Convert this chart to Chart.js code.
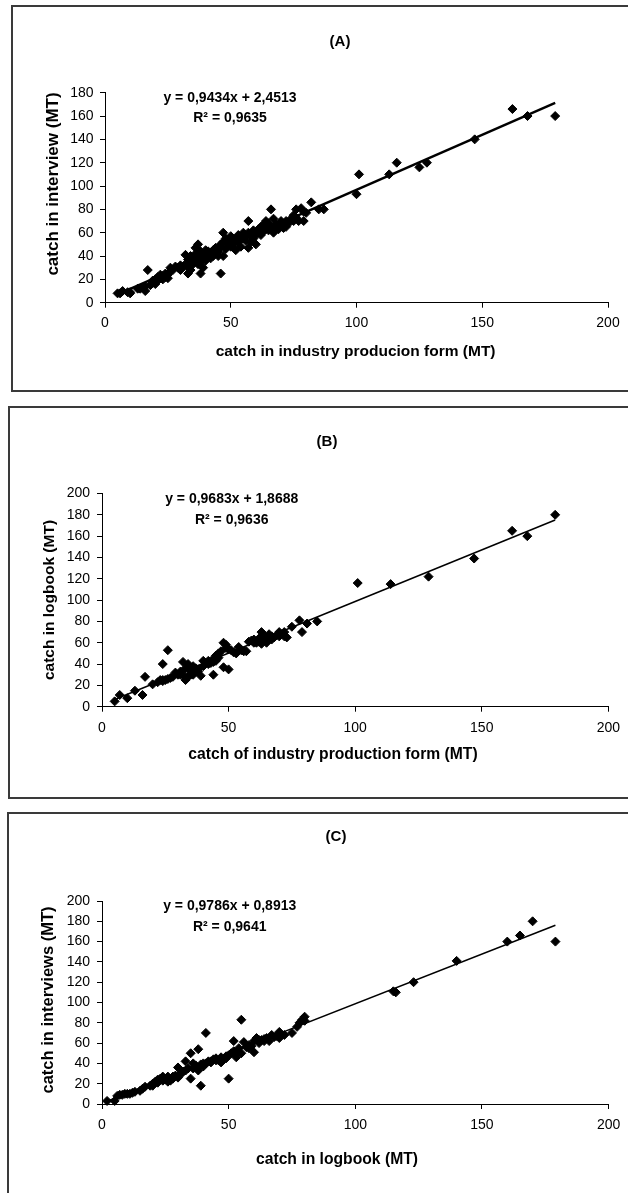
<!DOCTYPE html>
<html>
<head>
<meta charset="utf-8">
<script src="https://cdn.jsdelivr.net/npm/chart.js@4.4.1/dist/chart.umd.min.js"></script>
<style>
html,body{margin:0;padding:0;background:#fff;width:628px;height:1193px;overflow:hidden;position:relative;}
.frame{position:absolute;border:2px solid #3a3a3a;box-sizing:border-box;}
canvas{position:absolute;left:0;}
</style>
</head>
<body>
<canvas id="cA" width="628" height="392" style="top:0px"></canvas>
<canvas id="cB" width="628" height="392" style="top:406px"></canvas>
<canvas id="cC" width="628" height="381" style="top:812px"></canvas>
<div class="frame" style="left:11px;top:5px;width:700px;height:387px"></div>
<div class="frame" style="left:8px;top:406px;width:700px;height:393px"></div>
<div class="frame" style="left:7px;top:812px;width:700px;height:420px"></div>
<script>
// ---------- DATA ----------
const xTicks = [0, 50, 100, 150, 200];

// (A) catch in industry production form (x) vs catch in interview (y)
const aX = [5,6,7,9,10,10,13,14,16,16,17,18,19,19,20,20,21,21,
  22,22,23,23,24,24,25,25,26,26,27,28,29,30,30,31,
  32,32,33,33,33,34,34,34,35,35,36,36,36,37,37,37,38,38,38,39,39,40,40,40,
  41,41,42,42,43,43,44,44,45,45,46,46,46,47,47,47,48,48,49,49,50,50,50,
  51,51,52,52,53,53,54,54,55,55,56,56,57,57,57,58,58,59,59,60,60,
  61,61,62,62,63,63,64,64,65,65,66,66,67,67,68,68,69,70,70,
  71,71,72,72,73,74,75,75,76,76,77,78,79,79,80,82,85,87,
  100,101,113,116,125,128,147,162,168,179];
const aY = [8,8,10,9,9,8,12,12,10,14,28,15,17,19,16,20,19,22,
  21,24,20,23,22,25,21,24,27,30,28,31,30,28,32,31,
  33,41,25,30,37,28,35,40,33,38,36,42,47,50,33,40,25,35,44,30,38,36,41,45,
  40,44,38,43,45,40,42,47,40,44,25,48,50,60,40,52,46,55,50,53,48,52,57,
  50,55,45,53,52,58,48,56,55,60,53,58,47,70,60,52,57,55,62,50,58,
  60,63,58,65,61,67,63,70,62,68,80,65,60,72,64,67,63,66,70,
  64,68,65,70,68,72,75,70,73,80,70,81,70,78,77,86,80,80,
  93,110,110,120,116,120,140,166,160,160];
const aYTicks = [0,20,40,60,80,100,120,140,160,180];
const aTrend = [0.9434, 2.4513];      // slope, intercept
const aTrendX = [5, 179];
const aEq = ['y = 0,9434x + 2,4513', 'R\u00B2 = 0,9635'];
const aTitles = ['(A)', 'catch in industry producion form (MT)', 'catch in interview (MT)'];

// (B) catch of industry production form (x) vs catch in logbook (y)
const bX = [5,7,10,13,16,17,20,22,23,24,24,25,26,26,27,29,30,31,32,32,
  33,33,34,34,35,35,36,36,37,38,39,40,40,41,42,43,44,44,45,45,
  46,47,48,48,49,49,50,50,51,52,53,54,55,56,58,59,60,61,62,63,
  63,64,64,65,65,66,67,67,68,69,70,71,72,73,75,78,79,81,85,101,
  114,129,147,162,168,179,
  31,35,36,38,42,44,46,57,60,62,64,66,70,72,24,28];
const bY = [5,11,8,15,11,28,21,23,25,40,25,25,53,26,27,32,30,33,42,30,
  25,36,28,40,33,35,38,30,36,33,29,43,38,41,43,41,30,45,48,43,
  50,52,60,37,58,55,35,54,53,51,50,56,53,52,61,62,63,60,64,59,
  70,62,67,65,60,68,63,66,65,67,70,68,70,65,75,81,70,78,80,116,
  115,122,139,165,160,180,
  30,30,34,35,40,42,46,52,60,61,64,64,66,66,24,28];
const bYTicks = [0,20,40,60,80,100,120,140,160,180,200];
const bTrend = [0.9683, 1.8688];
const bTrendX = [5, 179];
const bEq = ['y = 0,9683x + 1,8688', 'R\u00B2 = 0,9636'];
const bTitles = ['(B)', 'catch of industry production form (MT)', 'catch in logbook (MT)'];

// (C) catch in logbook (x) vs catch in interviews (y)
const cX = [2,5,6,7,9,10,12,13,15,16,17,19,20,21,22,23,24,25,26,27,
  28,29,30,30,31,32,33,33,34,35,35,36,37,38,38,39,39,40,41,41,
  42,43,44,45,46,47,48,49,50,50,51,52,52,53,54,55,55,56,57,58,
  59,60,60,61,62,63,64,65,66,67,68,69,70,70,72,75,77,78,79,80,
  80,115,116,123,140,160,165,170,179,
  20,22,24,26,28,31,36,40,43,45,47,49,53,58,62,64,8,11];
const cY = [3,3,8,9,10,10,11,12,13,15,17,18,20,22,21,25,27,24,27,23,
  25,28,26,36,30,32,33,42,35,50,25,35,38,54,33,18,39,40,70,40,
  42,41,44,45,43,46,44,47,25,48,50,62,52,46,55,83,50,61,56,58,
  57,51,62,65,60,63,62,65,62,68,66,67,71,65,68,70,76,80,83,86,
  82,111,110,120,141,160,166,180,160,
  18,24,23,22,27,29,40,37,42,43,41,45,49,55,63,64,9,10];
const cYTicks = [0,20,40,60,80,100,120,140,160,180,200];
const cTrend = [0.9786, 0.8913];
const cTrendX = [2, 179];
const cEq = ['y = 0,9786x + 0,8913', 'R\u00B2 = 0,9641'];
const cTitles = ['(C)', 'catch in logbook (MT)', 'catch in interviews (MT)'];

// ---------- DRAWING ----------
const FONT = "'Liberation Sans', Arial, Helvetica, sans-serif";

const panelText = {
  id: 'panelText',
  afterDatasetsDraw(chart, args, o) {
    const ctx = chart.ctx;
    ctx.save();
    ctx.fillStyle = '#000';
    ctx.textAlign = 'center';
    ctx.textBaseline = 'middle';
    // panel label
    ctx.font = 'bold ' + o.labelSize + 'px ' + FONT;
    ctx.fillText(o.titles[0], o.labelPos[0], o.labelPos[1]);
    // regression equation
    ctx.font = 'bold ' + o.eqSize + 'px ' + FONT;
    ctx.fillText(o.eq[0], o.eqX, o.eqY[0]);
    ctx.fillText(o.eq[1], o.eqX, o.eqY[1]);
    // x axis title
    ctx.font = 'bold ' + o.xTitleSize + 'px ' + FONT;
    ctx.fillText(o.titles[1], o.xTitlePos[0], o.xTitlePos[1]);
    // y axis title (rotated)
    ctx.font = 'bold ' + o.yTitleSize + 'px ' + FONT;
    ctx.translate(o.yTitlePos[0], o.yTitlePos[1]);
    ctx.rotate(-Math.PI / 2);
    ctx.fillText(o.titles[2], 0, 0);
    ctx.restore();
  }
};

function makeChart(id, c) {
  const pts = c.xs.map((x, i) => ({x: x, y: c.ys[i]}));
  const line = c.trendX.map(x => ({x: x, y: c.trend[0] * x + c.trend[1]}));
  const yMax = c.yTicks[c.yTicks.length - 1];
  return new Chart(document.getElementById(id), {
    type: 'scatter',
    data: {
      datasets: [
        {data: pts, pointStyle: 'rectRot', pointRadius: 4.5, pointBackgroundColor: '#000',
         pointBorderColor: '#000', pointBorderWidth: 1, showLine: false, clip: false},
        {data: line, showLine: true, borderColor: '#000', borderWidth: c.lineW,
         pointRadius: 0, fill: false}
      ]
    },
    options: {
      responsive: false, animation: false, events: [],
      layout: {padding: c.pad},
      plugins: {legend: {display: false}, tooltip: {enabled: false}, panelText: c.text},
      scales: {
        x: {
          type: 'linear', min: xTicks[0], max: xTicks[xTicks.length - 1],
          afterBuildTicks(s) { s.ticks = xTicks.map(v => ({value: v})); },
          ticks: {color: '#000', font: {family: FONT, size: 14}, padding: c.xTickPad, maxRotation: 0},
          grid: {display: true, drawOnChartArea: false, drawTicks: true, tickLength: 5, color: '#000'},
          border: {display: true, color: '#000', width: 1},
          title: {display: false},
          afterFit(s) { s.height = c.xH; }
        },
        y: {
          type: 'linear', min: 0, max: yMax,
          afterBuildTicks(s) { s.ticks = c.yTicks.map(v => ({value: v})); },
          ticks: {color: '#000', font: {family: FONT, size: 14}, padding: c.yTickPad},
          grid: {display: true, drawOnChartArea: false, drawTicks: true, tickLength: 5, color: '#000'},
          border: {display: true, color: '#000', width: 1},
          title: {display: false},
          afterFit(s) { s.width = c.yW; }
        }
      }
    },
    plugins: [panelText]
  });
}

makeChart('cA', {
  xs: aX, ys: aY, yTicks: aYTicks, trend: aTrend, trendX: aTrendX, lineW: 2.5,
  pad: {left: 0, right: 20, top: 92.7, bottom: 19.3},
  xH: 70, yW: 105, xTickPad: 7.3, yTickPad: 6.5,
  text: {titles: aTitles, labelSize: 15, labelPos: [340, 42],
         eq: aEq, eqSize: 14, eqX: 230, eqY: [98.3, 118.3],
         xTitleSize: 15.5, xTitlePos: [355.6, 351.7],
         yTitleSize: 17, yTitlePos: [53, 184]}
});

makeChart('cB', {
  xs: bX, ys: bY, yTicks: bYTicks, trend: bTrend, trendX: bTrendX, lineW: 1.5,
  pad: {left: 0, right: 19, top: 87.5, bottom: 21.3},
  xH: 70, yW: 102, xTickPad: 8, yTickPad: 7,
  text: {titles: bTitles, labelSize: 15, labelPos: [327, 35.7],
         eq: bEq, eqSize: 14, eqX: 231.7, eqY: [93.3, 114],
         xTitleSize: 15.7, xTitlePos: [333, 349],
         yTitleSize: 15.5, yTitlePos: [50, 194]}
});

makeChart('cC', {
  xs: cX, ys: cY, yTicks: cYTicks, trend: cTrend, trendX: cTrendX, lineW: 1.5,
  pad: {left: 0, right: 19, top: 89, bottom: 19},
  xH: 70, yW: 102, xTickPad: 7.7, yTickPad: 7,
  text: {titles: cTitles, labelSize: 15, labelPos: [336, 24.7],
         eq: cEq, eqSize: 14, eqX: 229.7, eqY: [94, 114.7],
         xTitleSize: 15.7, xTitlePos: [337, 348],
         yTitleSize: 16.5, yTitlePos: [48, 188]}
});
</script>
</body>
</html>
